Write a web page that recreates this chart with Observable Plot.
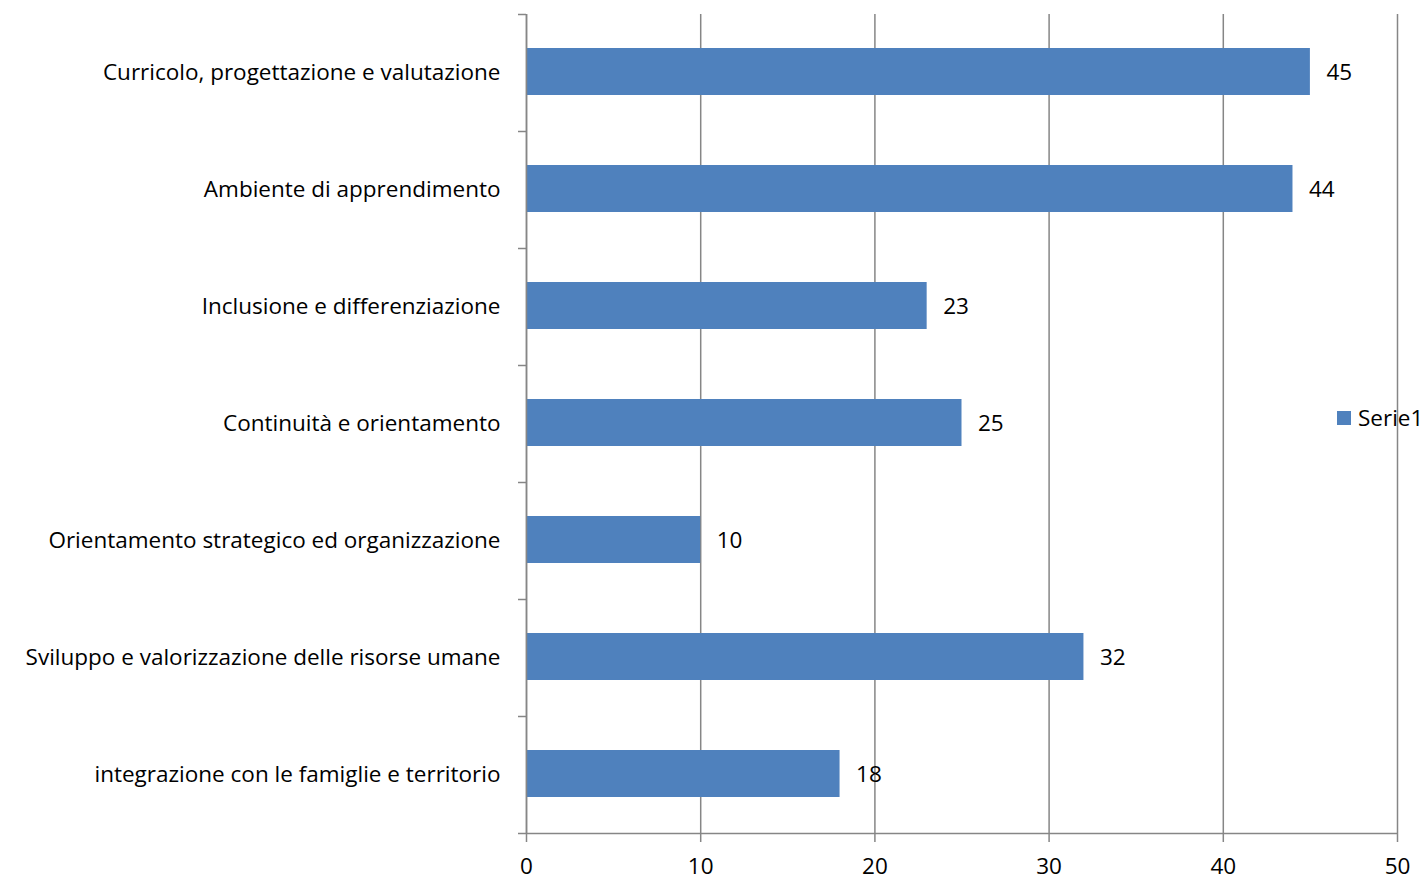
<!DOCTYPE html>
<html>
<head>
<meta charset="utf-8">
<script src="https://cdn.jsdelivr.net/npm/d3@7"></script>
<script src="https://cdn.jsdelivr.net/npm/@observablehq/plot@0.6"></script>
<style>
  html, body { margin: 0; padding: 0; background: #fff; }
  #wrap { position: relative; width: 1428px; height: 881px; font-family: "Open Sans", sans-serif; }
  #legend { position: absolute; left: 1337px; top: 402px; font-size: 22.5px; color: #000; display: flex; align-items: center; white-space: nowrap; }
  #legend .sw { width: 14px; height: 14px; background: #4F81BD; margin-right: 7px; }
</style>
</head>
<body>
<div id="wrap"><div id="chart"></div><div id="legend"><div class="sw"></div><span>Serie1</span></div></div>
<script>
const categories = [
  "Curricolo, progettazione e valutazione",
  "Ambiente di apprendimento",
  "Inclusione e differenziazione",
  "Continuità e orientamento",
  "Orientamento strategico ed organizzazione",
  "Sviluppo e valorizzazione delle risorse umane",
  "integrazione con le famiglie e territorio"
];
const values = [45, 44, 23, 25, 10, 32, 18];
const xTicks = [0, 10, 20, 30, 40, 50];
const seriesName = "Serie1";

const data = categories.map((c, i) => ({category: c, value: values[i]}));
const gray = "#868686";
const step = (833 - 14) / categories.length;
const fs = 22.5;

const chart = Plot.plot({
  width: 1428,
  height: 881,
  marginLeft: 526,
  marginRight: 31,
  marginTop: 14,
  marginBottom: 48,
  style: {fontFamily: "'Open Sans', sans-serif", fontSize: fs + "px", color: "#000", background: "#fff"},
  x: {domain: [0, 50], ticks: xTicks},
  y: {domain: categories, padding: 0},
  marks: [
    Plot.gridX(xTicks, {stroke: gray, strokeOpacity: 1, strokeWidth: 1.5}),
    Plot.barX(data, {x: "value", y: "category", fill: "#4F81BD", insetTop: 34, insetBottom: 36}),
    Plot.text(data, {x: "value", y: "category", text: d => String(d.value), textAnchor: "start", dx: 16, dy: 0, fontSize: fs, fill: "#000"}),
    Plot.ruleX([0], {stroke: gray, strokeWidth: 1.5}),
    Plot.ruleY(categories, {y: d => d, x1: 0, x2: 0, dy: -step / 2, insetLeft: -8, stroke: gray, strokeWidth: 1.5}),
    Plot.ruleY([categories[categories.length - 1]], {y: d => d, x1: 0, x2: 50, dy: step / 2, insetLeft: -8, stroke: gray, strokeWidth: 1.5}),
    Plot.axisX(xTicks, {tickSize: 9, tickPadding: 16, fontSize: fs, label: null, stroke: gray, strokeWidth: 1.5, strokeOpacity: 1}),
    Plot.axisY({tickSize: 0, tickPadding: 26, fontSize: fs, label: null})
  ]
});
document.getElementById("chart").appendChild(chart);
</script>
</body>
</html>
